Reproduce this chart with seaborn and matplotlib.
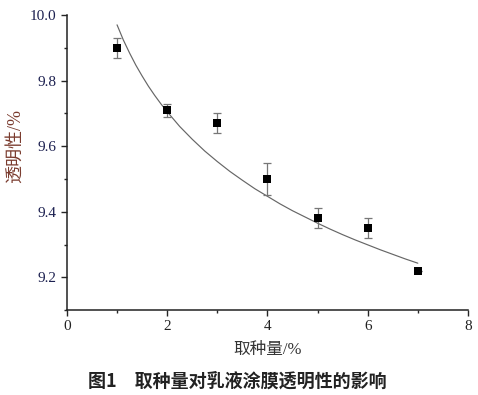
import numpy as np
import pandas as pd
import matplotlib
matplotlib.use('Agg')
import matplotlib.pyplot as plt
from matplotlib.ticker import MultipleLocator
import seaborn as sns

# measured points
dosage = [1, 2, 3, 4, 5, 6, 7]
transparency = [9.90, 9.71, 9.67, 9.50, 9.38, 9.35, 9.22]
err = [0.03, 0.02, 0.03, 0.05, 0.03, 0.03, 0.0]

# fitted curve
fit_x = [1.0, 1.125, 1.25, 1.375, 1.5, 1.625, 1.75, 1.875, 2.0, 2.25, 2.5, 2.75,
         3.0, 3.25, 3.5, 3.75, 4.0, 4.25, 4.5, 4.75, 5.0, 5.25, 5.5, 5.75,
         6.0, 6.25, 6.5, 6.75, 7.0]
fit_y = [9.970, 9.924, 9.884, 9.847, 9.814, 9.783, 9.755, 9.729, 9.705, 9.660,
         9.621, 9.585, 9.553, 9.523, 9.496, 9.470, 9.447, 9.424, 9.403, 9.384,
         9.365, 9.347, 9.330, 9.314, 9.299, 9.284, 9.270, 9.256, 9.243]

x_ticks = [0, 2, 4, 6, 8]
y_ticks = [9.2, 9.4, 9.6, 9.8, 10.0]

sns.set_style('ticks')
plt.rcParams['font.family'] = ['Liberation Serif', 'Noto Sans CJK SC']

df = pd.DataFrame({'x': dosage, 'y': transparency})
fit = pd.DataFrame({'x': fit_x, 'y': fit_y})

fig = plt.figure(figsize=(4.78, 3.95), dpi=100)
ax = fig.add_axes([0.140, 0.215, 0.839, 0.747])

sns.lineplot(data=fit, x='x', y='y', ax=ax, color='#666666', linewidth=0.85)
ax.errorbar(dosage, transparency, yerr=err, fmt='none', ecolor='#777777',
            elinewidth=0.9, capsize=3, capthick=0.9)
sns.scatterplot(data=df, x='x', y='y', ax=ax, marker='s', s=40, color='black',
                edgecolor='black', linewidth=0, zorder=5)

ax.set_xlim(0, 8)
ax.set_ylim(9.1, 10.0)
ax.set_xticks(x_ticks)
ax.set_xticklabels([str(v) for v in x_ticks])
ax.set_yticks(y_ticks)
ax.set_yticklabels([f'{v:.1f}' for v in y_ticks])
ax.xaxis.set_minor_locator(MultipleLocator(1))
ax.yaxis.set_minor_locator(MultipleLocator(0.1))
ax.tick_params(which='major', length=4, width=1, labelsize=11, direction='out')
ax.tick_params(which='minor', length=2.5, width=1, direction='out')
for lbl in ax.get_yticklabels():
    lbl.set_color('#1c2050')
    lbl.set_family('Liberation Serif')
for lbl in ax.get_xticklabels():
    lbl.set_color('#222222')
    lbl.set_family('Liberation Serif')
for s in ['left', 'bottom']:
    ax.spines[s].set_linewidth(1.1)
    ax.spines[s].set_color('#222222')
sns.despine(ax=ax)

ax.set_xlabel('取种量/%', fontsize=12, color='#333333', labelpad=6)
ax.set_ylabel('透明性/%', fontsize=13, color='#7a3b2e', va='center')
ax.yaxis.set_label_coords(-0.128, 0.556)

fig.text(0.497, 0.01, '图1\u3000取种量对乳液涂膜透明性的影响', ha='center', va='bottom',
         fontsize=13, fontweight='bold', color='#222222',
         family=['Noto Sans CJK SC', 'DejaVu Sans'])

fig.savefig('out.png', dpi=100)
